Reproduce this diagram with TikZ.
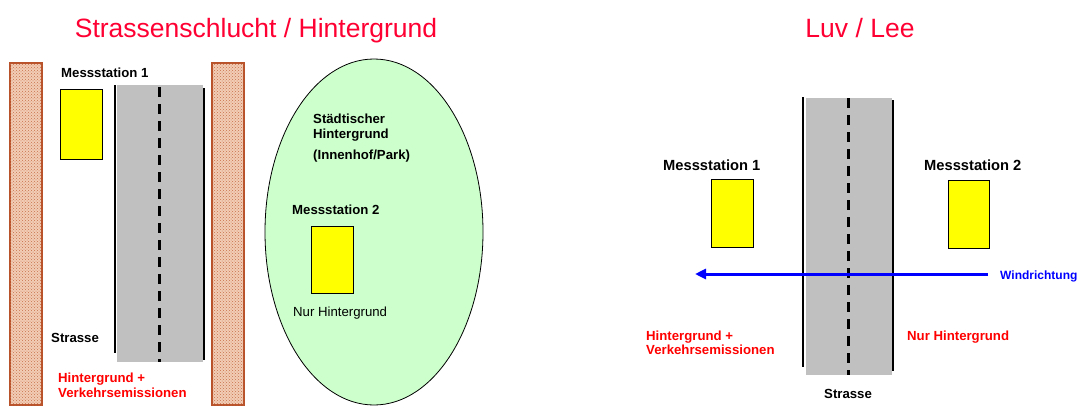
\documentclass[tikz,border=0pt]{standalone}
\usepackage{fontspec}
\setmainfont{Liberation Sans}
\usepackage{xcolor}
\usetikzlibrary{positioning, arrows.meta, shapes.geometric, patterns}
\definecolor{titlered}{HTML}{FF0033}
\definecolor{labelred}{HTML}{FF0000}
\definecolor{windblue}{HTML}{0000FF}
\definecolor{parkgreen}{HTML}{CCFFCC}
\definecolor{stationyellow}{HTML}{FFFF00}
\definecolor{roadgray}{HTML}{C0C0C0}
\definecolor{brickfill}{HTML}{F2CDB6}
\definecolor{brickdot}{HTML}{C8704A}
\definecolor{brickline}{HTML}{B8522A}

\tikzset{
  heading/.style={inner sep=0pt, anchor=base, text=titlered, font=\fontsize{26.5}{30}\selectfont},
  lbl/.style={inner sep=0pt, anchor=base west, font=\bfseries\fontsize{13.2}{15}\selectfont},
  redlbl/.style={lbl, text=labelred},
  station/.style={draw=black, fill=stationyellow, line width=0.8pt, minimum width=42pt, minimum height=68pt, inner sep=0pt},
  wall/.style={draw=brickline, line width=1.2pt, fill=brickfill, postaction={pattern=crosshatch dots, pattern color=brickdot}},
  kerb/.style={line width=2pt},
  midline/.style={line width=3pt, dash pattern=on 10pt off 7pt},
  wind/.style={windblue, line width=3pt, -{Triangle[length=11pt,width=10pt]}}
}

\begin{document}
\begin{tikzpicture}[x=1pt, y=-1pt]
  \useasboundingbox (0,0) rectangle (1085,405);

  % Strassenschlucht / Hintergrund
  \node[heading] (titleL) at (256,37) {Strassenschlucht / Hintergrund};
  \draw[wall] (10,63) rectangle (42,405);
  \draw[wall] (212,63) rectangle (244,405);
  \fill[roadgray] (117,85) rectangle (203,362);
  \draw[kerb] (115,85) -- (115,353);
  \draw[kerb] (204,88) -- (204,360);
  \draw[midline] (159,87) -- (159,362);
  \node[lbl] (ms1L) at (61,77) {Messstation 1};
  \node[station, minimum height=70pt] (box1L) at (81,124) {};
  \node[lbl] (strasseL) at (51,342) {Strasse};
  \node[redlbl] (hintL) at (58,382) {Hintergrund +};
  \node[redlbl] (verkL) at ([yshift=-15pt]hintL.base west) {Verkehrsemissionen};

  \node[ellipse, draw, fill=parkgreen, line width=0.8pt, minimum width=218pt, minimum height=346pt, inner sep=0pt] (park) at (374,232) {};
  \node[lbl] (staedt) at (313,123) {Städtischer};
  \node[lbl] (staedt2) at ([yshift=-15pt]staedt.base west) {Hintergrund};
  \node[lbl] (innenhof) at (313,159) {(Innenhof/Park)};
  \node[lbl] (ms2L) at (292,214) {Messstation 2};
  \node[station, minimum height=67pt] (box2L) at (332,259.5) {};
  \node[lbl, font=\fontsize{13.2}{15}\selectfont] (nurL) at (293,316) {Nur Hintergrund};

  % Luv / Lee
  \node[heading] (titleR) at (860,37) {Luv / Lee};
  \fill[roadgray] (806,98) rectangle (892,375);
  \draw[kerb] (803,97) -- (803,367);
  \draw[kerb] (893,100) -- (893,371);
  \draw[midline] (848,98) -- (848,375);
  \node[lbl, font=\bfseries\fontsize{14.7}{17}\selectfont] (ms1R) at (663,170) {Messstation 1};
  \node[lbl, font=\bfseries\fontsize{14.7}{17}\selectfont] (ms2R) at (924,170) {Messstation 2};
  \node[station] (box1R) at (732.5,213) {};
  \node[station, minimum width=41pt] (box2R) at (968.5,214) {};
  \coordinate (windtail) at (988,274);
  \coordinate (windhead) at (695,274);
  \draw[wind] (windtail) -- (windhead);
  \node[lbl, text=windblue, font=\bfseries\fontsize{12}{14}\selectfont] (windtext) at (1000,279) {Windrichtung};
  \node[redlbl] (hintR) at (646,340) {Hintergrund +};
  \node[redlbl] (verkR) at ([yshift=-14pt]hintR.base west) {Verkehrsemissionen};
  \node[redlbl] (nurR) at (907,340) {Nur Hintergrund};
  \node[lbl] (strasseR) at (824,398) {Strasse};
\end{tikzpicture}
\end{document}
